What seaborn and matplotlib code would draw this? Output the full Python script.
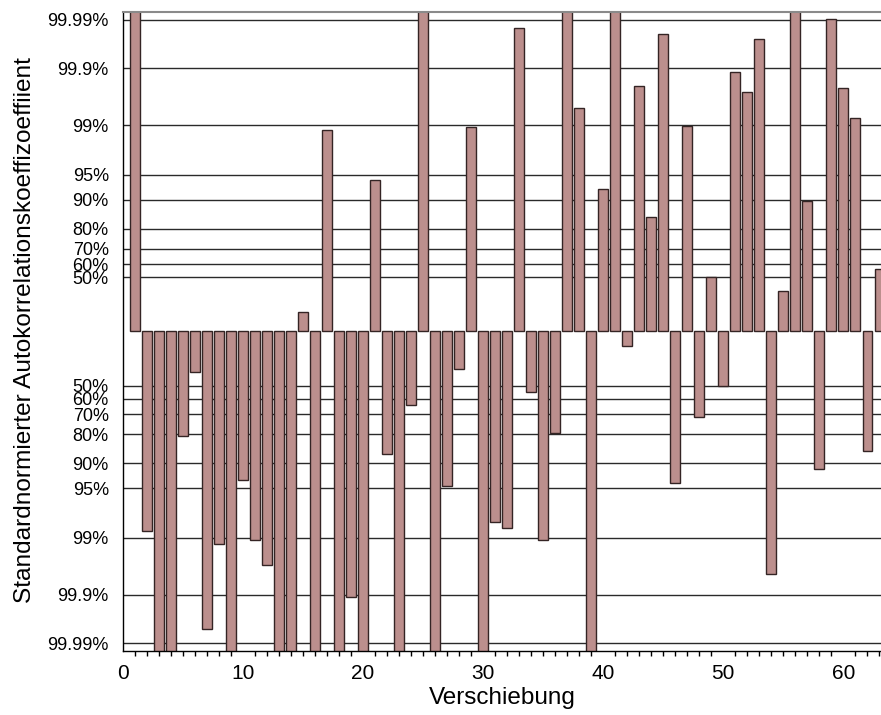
import matplotlib
matplotlib.use("Agg")
import matplotlib.pyplot as plt
from matplotlib.ticker import MultipleLocator, FixedLocator
import seaborn as sns
import pandas as pd
from statistics import NormalDist

# Lags of the autocorrelation function
lags = list(range(1, 64))

# Standardised autocorrelation coefficients (z-scores); values beyond +-4 run off the plot
z_values = [
    4.60, -2.49, -4.50, -4.40, -1.30, -0.50, -3.72, -2.65, -4.50, -1.85,
    -2.60, -2.91, -4.40, -4.50, 0.24, -4.30, 2.52, -4.50, -3.32, -4.40,
    1.89, -1.53, -4.50, -0.92, 4.50, -4.40, -1.93, -0.47, 2.55, -4.50,
    -2.38, -2.45, 3.79, -0.76, -2.60, -1.27, 4.40, 2.79, -4.50, 1.78,
    4.50, -0.18, 3.07, 1.43, 3.72, -1.89, 2.57, -1.07, 0.68, -0.68,
    3.24, 2.99, 3.65, -3.03, 0.51, 4.40, 1.63, -1.72, 3.90, 3.04,
    2.67, -1.49, 0.78,
]

# Two-sided confidence levels shown on the y axis
levels = [50, 60, 70, 80, 90, 95, 99, 99.9, 99.99]
level_labels = ["50%", "60%", "70%", "80%", "90%", "95%", "99%", "99.9%", "99.99%"]

df = pd.DataFrame({"Verschiebung": lags, "z": z_values})

sns.set_style("white")
plt.rcParams["font.family"] = ["Liberation Sans", "DejaVu Sans"]
plt.rcParams["text.color"] = "black"
plt.rcParams["axes.labelcolor"] = "black"
plt.rcParams["xtick.color"] = "black"
plt.rcParams["ytick.color"] = "black"

fig = plt.figure(figsize=(8.81, 7.15), dpi=100)
ax = fig.add_axes([0.1393, 0.08951, 0.8607, 0.89371])

# Quantile positions of the confidence levels, mirrored around zero
nd = NormalDist()
q = [nd.inv_cdf(0.5 + p / 200.0) for p in levels]
yticks = [-v for v in q[::-1]] + q
ylabels = level_labels[::-1] + level_labels

for y in yticks:
    ax.axhline(y, color="#2a2a2a", lw=1.0, zorder=0)

sns.barplot(
    data=df, x="Verschiebung", y="z", native_scale=True,
    color="#BC8F8D", saturation=1, edgecolor="#342424", linewidth=1.0,
    width=0.8, errorbar=None, ax=ax, zorder=2,
)

ax.set_xlim(0, 63.14)
ax.set_ylim(-3.99, 3.99)

ax.yaxis.set_major_locator(FixedLocator(yticks))
ax.set_yticklabels(ylabels, fontsize=13)
ax.xaxis.set_major_locator(MultipleLocator(10))
ax.xaxis.set_minor_locator(MultipleLocator(1))
ax.set_xticks(range(0, 61, 10))
ax.set_xticklabels([str(v) for v in range(0, 61, 10)], fontsize=15)

ax.tick_params(axis="y", which="major", direction="out", length=8, width=1,
               color="black", labelcolor="black", pad=2)
ax.tick_params(axis="x", which="major", direction="out", length=6.5, width=1,
               color="black", labelcolor="black", pad=3)
ax.tick_params(axis="x", which="minor", direction="out", length=3.5, width=1,
               color="black", bottom=True)

for side in ["left", "bottom"]:
    ax.spines[side].set_color("black")
    ax.spines[side].set_linewidth(1.0)
ax.spines["top"].set_color("#8a8a8a")
ax.spines["top"].set_linewidth(1.5)
ax.spines["right"].set_visible(False)

ax.set_xlabel("Verschiebung", fontsize=17.5, color="black")
ax.xaxis.set_label_coords(0.5, -0.056)
ax.set_ylabel("")
fig.text(25 / 881, 1 - 330 / 715,
         "Standardnormierter Autokorrelationskoeffizoeffiient",
         rotation=90, ha="center", va="center", fontsize=17.6, color="black")

fig.savefig("out.png", dpi=100)
